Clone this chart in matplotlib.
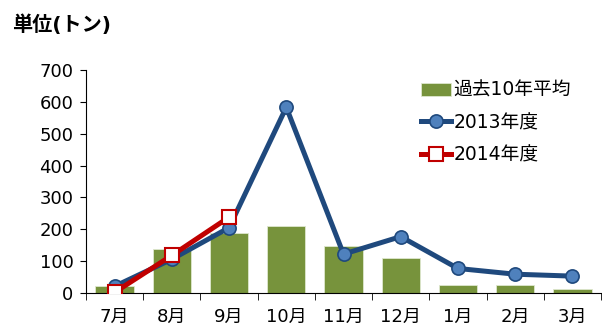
import matplotlib
matplotlib.use("Agg")
import matplotlib.pyplot as plt
import numpy as np

plt.rcParams['font.family'] = ['DejaVu Sans', 'Noto Sans CJK JP']

months = ["7月", "8月", "9月", "10月", "11月", "12月", "1月", "2月", "3月"]
avg10 = [22, 137, 187, 211, 148, 109, 26, 26, 14]
fy2013 = [21, 106, 205, 583, 122, 177, 77, 59, 53]
fy2014 = [2, 118, 238]
yticks = [0, 100, 200, 300, 400, 500, 600, 700]

fig = plt.figure(figsize=(6.02, 3.29), dpi=100)
ax = fig.add_axes([86/602, (329-293)/329, 515/602, 223/329])

x = np.arange(len(months))
b = ax.bar(x, avg10, width=0.67, color="#77933C", edgecolor="#dfe8cf", linewidth=0.6,
           label="過去10年平均", zorder=2)
l1, = ax.plot(x, fy2013, color="#1F497D", lw=3.6, marker="o", ms=9.5,
              mfc="#4F81BD", mec="#1F497D", mew=1.2, label="2013年度", zorder=3)
l2, = ax.plot(x[:len(fy2014)], fy2014, color="#C00000", lw=3.6, marker="s", ms=9.5,
              mfc="white", mec="#C00000", mew=1.5, label="2014年度", zorder=4)

ax.set_xlim(-0.5, len(months) - 0.5)
ax.set_ylim(0, 700)
ax.set_yticks(yticks)
ax.tick_params(axis="y", labelsize=13, length=4, direction="out", pad=5)
ax.set_xticks(x)
ax.set_xticklabels(months, fontsize=13)
ax.tick_params(axis="x", length=0, pad=11)
ax.set_xticks(np.arange(-0.5, len(months)), minor=True)
ax.tick_params(axis="x", which="minor", length=5, direction="out")
for s in ["top", "right"]:
    ax.spines[s].set_visible(False)

ax.legend([b, l1, l2], ["過去10年平均", "2013年度", "2014年度"],
          loc="upper left", bbox_to_anchor=(0.635, 0.985), frameon=False, fontsize=13.5,
          handlelength=1.6, handletextpad=0.15, labelspacing=0.7, borderaxespad=0)

fig.text(12/602, 1 - 25/329, "単位(トン)", fontsize=14.5, fontweight="bold", va="center")

fig.savefig("out.png", dpi=100)
